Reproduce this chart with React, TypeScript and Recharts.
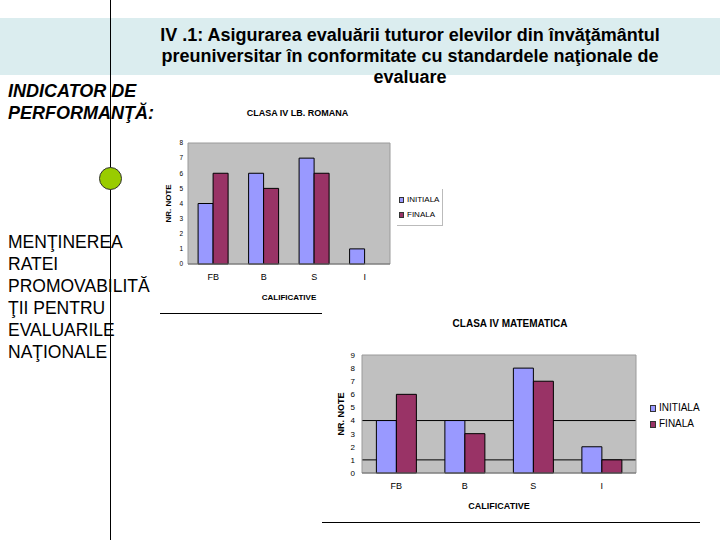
import React from 'react';
import { BarChart, Bar, XAxis, YAxis, CartesianGrid, ReferenceArea } from 'recharts';

const CATEGORIES = ['FB', 'B', 'S', 'I'];
const ROMANA_INITIALA = [4, 6, 7, 1];
const ROMANA_FINALA = [6, 5, 6, 0];
const MATE_INITIALA = [4, 4, 8, 2];
const MATE_FINALA = [6, 3, 7, 1];
const ROMANA_TICKS = [0, 1, 2, 3, 4, 5, 6, 7, 8];
const MATE_TICKS = [0, 1, 2, 3, 4, 5, 6, 7, 8, 9];
const MATE_GRID = [1, 4];
const SERIES = ['INITIALA', 'FINALA'];

const C_INIT = '#9999ff';
const C_FIN = '#993366';
const PLOT_BG = '#c0c0c0';
const NARROW = "'Liberation Sans Narrow', 'Liberation Sans', Arial, sans-serif";
const SANS = "'Liberation Sans', Arial, sans-serif";

const romanaData = CATEGORIES.map((c, i) => ({ cat: c, initiala: ROMANA_INITIALA[i], finala: ROMANA_FINALA[i] }));
const mateData = CATEGORIES.map((c, i) => ({ cat: c, initiala: MATE_INITIALA[i], finala: MATE_FINALA[i] }));

function Legend({ left, top, fontSize, boxed }: { left: number; top: number; fontSize: number; boxed?: boolean }) {
  return (
    <div
      style={{
        position: 'absolute', left, top, padding: boxed ? '3px 3px 3px 2px' : 0,
        borderRight: boxed ? '1px solid #bbb' : 'none', borderBottom: boxed ? '1px solid #bbb' : 'none',
        fontFamily: boxed ? NARROW : SANS, fontSize, lineHeight: boxed ? '15px' : '16px', color: '#000',
      }}
    >
      {SERIES.map((s, i) => (
        <div key={s} style={{ display: 'flex', alignItems: 'center' }}>
          <span style={{
            display: 'inline-block', width: boxed ? 5 : 6, height: boxed ? 6 : 7, marginRight: 3,
            background: i === 0 ? C_INIT : C_FIN, border: '1px solid #333', boxSizing: 'border-box',
          }} />
          {s}
        </div>
      ))}
    </div>
  );
}

export default function App() {
  return (
    <div style={{ position: 'absolute', left: 0, top: 0, width: 720, height: 540, background: '#fff', overflow: 'hidden' }}>
      {/* title band */}
      <div style={{ position: 'absolute', left: 0, top: 18, width: 720, height: 57, background: '#dbedef' }} />
      <div style={{
        position: 'absolute', left: 110, top: 25, width: 600, textAlign: 'center',
        fontFamily: NARROW, fontWeight: 'bold', fontSize: 18, lineHeight: '21px', color: '#000',
      }}>
        IV .1: Asigurarea evaluării tuturor elevilor din învăţământul<br />
        preuniversitar în conformitate cu standardele naţionale de<br />
        evaluare
      </div>

      <div style={{
        position: 'absolute', left: 8, top: 80, fontFamily: SANS, fontWeight: 'bold', fontStyle: 'italic',
        fontSize: 18, lineHeight: '22px', color: '#000',
      }}>
        INDICATOR DE<br />PERFORMANŢĂ:
      </div>

      <div style={{
        position: 'absolute', left: 8, top: 231, fontFamily: SANS, fontSize: 17.5, lineHeight: '22px', color: '#000',
      }}>
        MENŢINEREA<br />RATEI<br />PROMOVABILITĂ<br />ŢII PENTRU<br />EVALUARILE<br />NAŢIONALE
      </div>

      {/* chart 1 */}
      <div style={{
        position: 'absolute', left: 200, top: 108, width: 195, textAlign: 'center',
        fontFamily: NARROW, fontWeight: 'bold', fontSize: 9, color: '#000',
      }}>CLASA IV LB. ROMANA</div>
      <div style={{ position: 'absolute', left: 150, top: 100 }}>
        <BarChart width={300} height={210} data={romanaData}
          margin={{ top: 43, right: 60, bottom: 6, left: 0 }} barCategoryGap="20%" barGap={0}>
          <CartesianGrid horizontal={false} vertical={false} fill={PLOT_BG} fillOpacity={1} />
          <ReferenceArea y1={0} y2={8} fill="none" stroke="#9a9a9a" strokeWidth={1} ifOverflow="visible" />
          <XAxis dataKey="cat" height={40} axisLine={{ stroke: '#707070' }} tickLine={false} tickSize={0} tickMargin={10}
            tick={{ fill: '#000', fontSize: 9, fontFamily: NARROW }}
            label={{ value: 'CALIFICATIVE', position: 'insideBottom', offset: 4, fill: '#000', fontSize: 8, fontWeight: 'bold', fontFamily: NARROW }} />
          <YAxis width={38} domain={[0, 8]} ticks={ROMANA_TICKS} interval={0} axisLine={false} tickLine={false}
            tickSize={0} tickMargin={5} tick={{ fill: '#000', fontSize: 6.5, fontFamily: NARROW }}
            label={{ value: 'NR. NOTE', angle: -90, position: 'insideLeft', offset: 18, fill: '#000', fontSize: 8, fontWeight: 'bold', fontFamily: NARROW, style: { textAnchor: 'middle' } }} />
          <Bar dataKey="initiala" name="INITIALA" fill={C_INIT} stroke="#000" strokeWidth={1} isAnimationActive={false} />
          <Bar dataKey="finala" name="FINALA" fill={C_FIN} stroke="#000" strokeWidth={1} isAnimationActive={false} />
        </BarChart>
      </div>
      <Legend left={397} top={189} fontSize={8} boxed />

      {/* chart 2 */}
      <div style={{
        position: 'absolute', left: 410, top: 318, width: 200, textAlign: 'center',
        fontFamily: SANS, fontWeight: 'bold', fontSize: 10, color: '#000',
      }}>CLASA IV MATEMATICA</div>
      <div style={{ position: 'absolute', left: 320, top: 330 }}>
        <BarChart width={400} height={190} data={mateData}
          margin={{ top: 25, right: 84, bottom: 10, left: 0 }} barCategoryGap="21%" barGap={0}>
          <CartesianGrid vertical={false} horizontalValues={MATE_GRID} fill={PLOT_BG} fillOpacity={1}
            stroke="#000" strokeWidth={1} />
          <ReferenceArea y1={0} y2={9} fill="none" stroke="#9a9a9a" strokeWidth={1} ifOverflow="visible" />
          <XAxis dataKey="cat" height={37} axisLine={{ stroke: '#707070' }} tickLine={false} tickSize={0} tickMargin={10}
            tick={{ fill: '#000', fontSize: 9, fontFamily: SANS }}
            label={{ value: 'CALIFICATIVE', position: 'insideBottom', offset: 1, fill: '#000', fontSize: 9, fontWeight: 'bold', fontFamily: SANS }} />
          <YAxis width={42} domain={[0, 9]} ticks={MATE_TICKS} interval={0} axisLine={false} tickLine={false}
            tickSize={0} tickMargin={7} tick={{ fill: '#000', fontSize: 8, fontFamily: SANS }}
            label={{ value: 'NR. NOTE', angle: -90, position: 'insideLeft', offset: 21, fill: '#000', fontSize: 9, fontWeight: 'bold', fontFamily: SANS, style: { textAnchor: 'middle' } }} />
          <Bar dataKey="initiala" name="INITIALA" fill={C_INIT} stroke="#000" strokeWidth={1} isAnimationActive={false} />
          <Bar dataKey="finala" name="FINALA" fill={C_FIN} stroke="#000" strokeWidth={1} isAnimationActive={false} />
        </BarChart>
      </div>
      <Legend left={650} top={400} fontSize={10} />

      {/* rules and marker */}
      <div style={{ position: 'absolute', left: 160, top: 313, width: 162, height: 1, background: '#000' }} />
      <div style={{ position: 'absolute', left: 322, top: 522, width: 378, height: 1, background: '#000' }} />
      <div style={{ position: 'absolute', left: 110, top: 0, width: 1, height: 540, background: '#000' }} />
      <div style={{
        position: 'absolute', left: 99, top: 167, width: 23, height: 23, borderRadius: '50%',
        background: '#99cc00', border: '1px solid #333', boxSizing: 'border-box',
      }} />
    </div>
  );
}
